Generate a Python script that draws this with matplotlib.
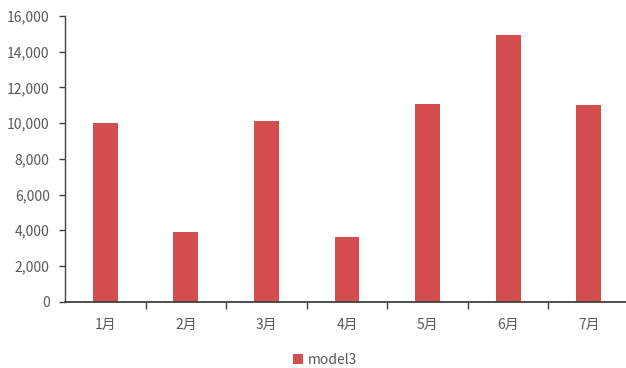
import matplotlib
matplotlib.use("Agg")
import matplotlib.pyplot as plt
from matplotlib.ticker import FuncFormatter, MultipleLocator
from matplotlib.patches import Patch

plt.rcParams['font.family'] = ['Noto Sans CJK SC', 'DejaVu Sans']

categories = ['1月', '2月', '3月', '4月', '5月', '6月', '7月']
model3 = [10000, 3890, 10140, 3620, 11070, 14940, 11000]

bar_color = '#D44E4F'
text_color = '#595959'
axis_color = '#404040'

fig = plt.figure(figsize=(6.26, 3.68), dpi=100)
ax = fig.add_axes([65/626, 66.3/368, (629-65)/626, (352-66.3)/368])

x = list(range(len(categories)))
ax.bar(x, model3, width=0.31, color=bar_color, zorder=2)

ax.set_xlim(-0.5, len(categories) - 0.5)
ax.set_ylim(0, 16000)
ax.yaxis.set_major_locator(MultipleLocator(2000))
ax.yaxis.set_major_formatter(FuncFormatter(lambda v, p: f'{int(v):,}'))

ax.set_xticks([i + 0.5 for i in x[:-1]])
ax.set_xticklabels([])
ax.set_xticks(x, minor=True)
ax.set_xticklabels(categories, minor=True)
ax.tick_params(axis='x', which='minor', length=0, pad=12, labelsize=10, labelcolor=text_color)
ax.tick_params(axis='x', which='major', length=5, width=1, color=axis_color, direction='out')
ax.tick_params(axis='y', length=4, width=1, color=axis_color, labelsize=10, labelcolor=text_color, pad=7)

for s in ['top', 'right']:
    ax.spines[s].set_visible(False)
ax.spines['left'].set_color(axis_color)
ax.spines['bottom'].set_color(axis_color)
ax.spines['left'].set_linewidth(1)
ax.spines['bottom'].set_linewidth(1.3)

handles = [Patch(facecolor=bar_color, label='model3')]
fig.legend(handles=handles, loc='center', bbox_to_anchor=(325/626, 1 - 360/368),
           frameon=False, fontsize=10, labelcolor=text_color,
           handlelength=0.7, handleheight=0.7, handletextpad=0.3)

fig.savefig('out.png', dpi=100)
